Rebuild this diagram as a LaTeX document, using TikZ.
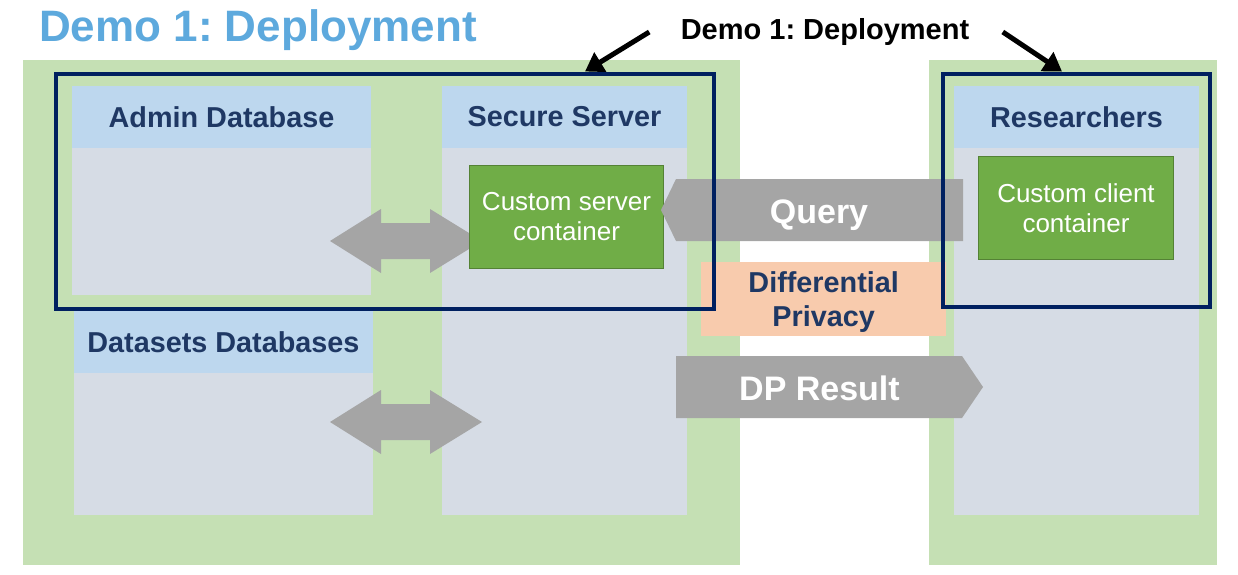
\documentclass[tikz,border=0pt]{standalone}
\usepackage{fontspec}
\setmainfont{Liberation Sans}
\usetikzlibrary{positioning, arrows.meta}
\frenchspacing

\definecolor{titleblue}{HTML}{5DA9DD}
\definecolor{navytext}{HTML}{1F3864}
\definecolor{framenavy}{HTML}{002060}
\definecolor{hdrblue}{HTML}{BDD7EE}
\definecolor{bodygray}{HTML}{D6DCE5}
\definecolor{panelgreen}{HTML}{C5E0B4}
\definecolor{contgreen}{HTML}{70AD47}
\definecolor{contborder}{HTML}{548235}
\definecolor{arrowgray}{HTML}{A5A5A5}
\definecolor{dporange}{HTML}{F8CBAD}

\begin{document}
\begin{tikzpicture}[x=1pt, y=-1pt,
		panel/.style={fill=panelgreen, anchor=north west, inner sep=0pt, outer sep=0pt},
		hdr/.style={fill=hdrblue, anchor=north west, inner sep=0pt, outer sep=0pt, minimum height=62pt,
			text=navytext, font=\fontsize{28.8}{34}\selectfont\bfseries},
		body/.style={fill=bodygray, anchor=north west, inner sep=0pt, outer sep=0pt},
		container/.style={fill=contgreen, draw=contborder, line width=1pt, anchor=north west, inner sep=0pt,
			text=white, align=center, font=\fontsize{26}{30}\selectfont},
		frame/.style={draw=framenavy, line width=4pt, anchor=north west, inner sep=0pt, outer sep=0pt},
		flowtext/.style={anchor=base, text=white, font=\fontsize{34}{40}\selectfont\bfseries},
		callarrow/.style={line width=5pt, -{Triangle[length=18pt,width=22pt]}}]
	\useasboundingbox (0,0) rectangle (1238,574);

	% green panels
	\node[panel, minimum width=717pt, minimum height=505pt] (leftpanel) at (23,60) {};
	\node[panel, minimum width=288pt, minimum height=505pt] (rightpanel) at (929,60) {};

	% columns
	\node[hdr, minimum width=299pt] (adminhdr) at (72,86) {Admin Database};
	\node[body, minimum width=299pt, minimum height=147pt, below=0pt of adminhdr] (adminbody) {};
	\node[hdr, minimum width=245pt] (serverhdr) at (442,86) {Secure Server};
	\node[body, minimum width=245pt, minimum height=367pt, below=0pt of serverhdr] (serverbody) {};
	\node[hdr, minimum width=299pt] (datahdr) at (74,311) {Datasets Databases};
	\node[body, minimum width=299pt, minimum height=142pt, below=0pt of datahdr] (databody) {};
	\node[hdr, minimum width=245pt] (reshdr) at (954,86) {Researchers};
	\node[body, minimum width=245pt, minimum height=367pt, below=0pt of reshdr] (resbody) {};

	% block arrows
	\foreach \y in {241,422} {
		\fill[arrowgray] (330,\y) -- (381,{\y-32}) -- (381,{\y-18}) -- (430,{\y-18}) -- (430,{\y-32})
			-- (482,\y) -- (430,{\y+32}) -- (430,{\y+18}) -- (381,{\y+18}) -- (381,{\y+32}) -- cycle;
	}
	\node[container, minimum width=194pt, minimum height=103pt] (servercont) at (469,165) {Custom server\\container};
	\node[container, minimum width=195pt, minimum height=103pt] (clientcont) at (978,156) {Custom client\\container};

	\fill[arrowgray] (661,210) -- (676,179) -- (963,179) -- (963,241) -- (676,241) -- cycle;
	\node[flowtext] (query) at (819,223) {Query};
	\fill[arrowgray] (676,356) -- (962,356) -- (983,387) -- (962,418) -- (676,418) -- cycle;
	\node[flowtext] (dpresult) at (819.5,400) {DP Result};

	\node[fill=dporange, anchor=north west, inner sep=0pt, minimum width=245pt, minimum height=74pt] (dpbox) at (701,262) {};
	\node[text=navytext, align=center, font=\fontsize{28.8}{34}\selectfont\bfseries, yshift=-3pt] (dptext) at (dpbox.center) {Differential\\Privacy};

	% deployment frames
	\node[frame, minimum width=658.5pt, minimum height=235pt] (leftframe) at (55.5,73.5) {};
	\node[frame, minimum width=267pt, minimum height=233pt] (rightframe) at (943,73.5) {};

	\node[anchor=base west, inner sep=0pt, text=titleblue, font=\fontsize{44}{50}\selectfont\bfseries] (title) at (39,41) {Demo 1: Deployment};
	\node[anchor=base, font=\fontsize{29}{34}\selectfont\bfseries] (callout) at (825,39.5) {Demo 1: Deployment};
	\draw[callarrow] ([xshift=-28pt]callout.west) -- ([xshift=-129pt,yshift=2pt]leftframe.north east);
	\draw[callarrow] ([xshift=30pt]callout.east) -- ([xshift=-148pt,yshift=2pt]rightframe.north east);
\end{tikzpicture}
\end{document}
